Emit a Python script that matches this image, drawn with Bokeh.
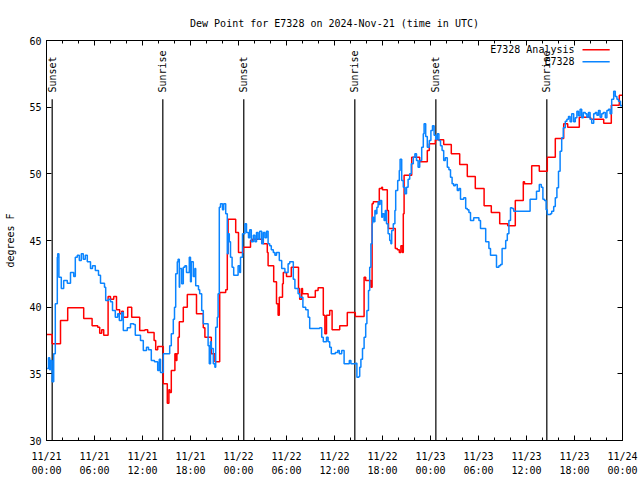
import math
from bokeh.plotting import figure
from bokeh.models import Range1d, LinearAxis, FixedTicker, Label
from bokeh.embed import file_html
from bokeh.resources import INLINE

title_text = "Dew Point for E7328 on 2024-Nov-21 (time in UTC)"
y_label = "degrees F"
series_names = ["E7328 Analysis", "E7328"]
series_colors = ["#ff0000", "#0a84ff"]

# hours since 2024-11-21 00:00 UTC
tick_hours = [0, 6, 12, 18, 24, 30, 36, 42, 48, 54, 60, 66, 72]
tick_labels = ["11/21\n00:00", "11/21\n06:00", "11/21\n12:00", "11/21\n18:00",
               "11/22\n00:00", "11/22\n06:00", "11/22\n12:00", "11/22\n18:00",
               "11/23\n00:00", "11/23\n06:00", "11/23\n12:00", "11/23\n18:00",
               "11/24\n00:00"]
minor_hours = [h for h in range(0, 73, 2) if h % 6 != 0]
y_ticks = [30, 35, 40, 45, 50, 55, 60]

sun_hours = [0.71, 14.54, 24.66, 38.54, 48.67, 62.54]
sun_names = ["Sunset", "Sunrise", "Sunset", "Sunrise", "Sunset", "Sunrise"]

red_hours = [0.0, 0.7, 1.75, 2.65, 4.65, 5.7, 6.4, 6.65, 6.9, 7.15,
             7.7, 8.0, 8.4, 8.75, 9.15, 9.4, 9.6, 10.15, 10.65, 11.65,
             12.3, 12.65, 13.45, 13.65, 13.9, 14.6, 15.1, 15.3, 15.4, 15.6,
             16.05, 16.2, 16.3, 16.45, 16.6, 17.1, 17.6, 18.75, 19.6, 19.8,
             20.6, 21.05, 21.65, 22.4, 22.6, 22.7, 23.65, 24.0, 24.6, 25.5,
             25.75, 27.1, 27.6, 27.7, 28.4, 28.75, 28.95, 29.1, 29.5, 29.6,
             30.0, 30.6, 31.5, 31.65, 31.9, 32.0, 32.7, 33.6, 33.95, 34.6,
             34.8, 35.0, 35.4, 35.7, 36.65, 37.6, 38.6, 39.7, 39.9, 40.55,
             40.7, 40.85, 41.6, 41.9, 42.0, 42.6, 42.75, 43.6, 43.85, 44.1,
             44.3, 44.5, 44.6, 44.7, 45.65, 46.65, 47.6, 47.85, 48.6, 49.65,
             50.6, 51.65, 52.6, 53.6, 54.7, 55.6, 56.65, 57.65, 58.6, 59.6,
             59.75, 60.65, 61.6, 62.6, 63.6, 64.65, 65.15, 66.6, 68.0, 69.65,
             70.6, 71.6, 72.0]
red_vals = [37.95, 37.25, 39.0, 39.95, 39.15, 38.6, 38.5, 38.05, 38.3, 37.9,
            40.8, 40.6, 40.8, 39.8, 39.5, 39.7, 39.25, 40.0, 39.25, 38.25,
            38.3, 38.1, 37.5, 36.8, 37.05, 34.25, 32.8, 33.8, 33.6, 35.25,
            36.5, 36.0, 36.5, 37.75, 38.9, 40.0, 40.95, 39.5, 38.45, 37.75,
            36.5, 35.9, 41.1, 41.3, 44.0, 46.6, 45.6, 44.1, 44.5, 45.0,
            45.1, 44.75, 44.1, 43.1, 41.9, 40.25, 39.4, 40.75, 41.75, 42.6,
            42.3, 43.0, 41.4, 40.6, 41.4, 41.0, 40.75, 41.25, 41.45, 39.4,
            38.0, 39.4, 39.75, 38.3, 38.6, 39.6, 39.3, 42.25, 42.0, 41.5,
            47.75, 47.9, 48.9, 49.0, 48.8, 47.25, 45.9, 44.4, 44.3, 44.1,
            44.6, 44.1, 47.0, 49.9, 51.25, 50.9, 51.75, 52.25, 52.55, 52.2,
            51.5, 50.7, 49.8, 48.9, 47.6, 47.1, 46.25, 46.1, 48.0, 49.4,
            49.25, 50.6, 50.2, 51.25, 52.65, 53.75, 53.5, 54.25, 54.1, 53.8,
            55.15, 55.9, 55.9]

blue_hours = [0.08, 0.25, 0.4, 0.5, 0.7, 0.9, 1.1, 1.35, 1.4, 1.55,
              1.85, 2.15, 2.6, 3.0, 3.4, 3.6, 3.85, 4.1, 4.35, 4.6,
              4.85, 5.1, 5.5, 5.75, 6.1, 6.5, 6.75, 7.25, 7.4, 7.75,
              8.0, 8.25, 8.6, 8.9, 9.1, 9.4, 9.6, 10.1, 10.5, 10.9,
              11.1, 11.5, 11.75, 12.1, 12.5, 12.75, 13.1, 13.5, 13.9, 14.1,
              14.25, 14.6, 15.25, 15.4, 15.6, 15.85, 16.0, 16.15, 16.35, 16.45,
              16.6, 16.65, 16.9, 17.1, 17.3, 17.5, 17.85, 18.0, 18.1, 18.35,
              18.55, 18.65, 19.0, 19.15, 19.4, 19.6, 20.0, 20.2, 20.35, 20.5,
              20.6, 20.85, 21.05, 21.15, 21.35, 21.45, 21.6, 21.75, 22.0, 22.15,
              22.4, 22.6, 22.7, 22.85, 23.0, 23.2, 23.4, 23.75, 23.95, 24.15,
              24.25, 24.5, 24.8, 25.0, 25.25, 25.4, 25.6, 25.85, 26.05, 26.25,
              26.45, 26.65, 26.9, 27.1, 27.3, 27.5, 27.7, 27.9, 28.1, 28.35,
              28.55, 28.75, 29.1, 29.4, 29.8, 30.2, 30.4, 30.85, 31.05, 31.45,
              31.65, 32.05, 32.4, 32.7, 32.9, 33.6, 34.15, 34.4, 34.6, 35.0,
              35.2, 35.4, 35.6, 36.1, 36.4, 36.6, 36.9, 37.2, 37.85, 38.05,
              38.65, 38.8, 39.05, 39.15, 39.3, 39.5, 39.7, 39.9, 40.05, 40.25,
              40.4, 40.55, 40.7, 40.75, 40.9, 41.05, 41.2, 41.3, 41.45, 41.6,
              41.7, 41.9, 42.0, 42.2, 42.35, 42.5, 42.7, 42.9, 43.05, 43.15,
              43.35, 43.55, 43.65, 43.9, 44.1, 44.2, 44.4, 44.6, 44.8, 45.0,
              45.2, 45.4, 45.6, 45.85, 46.05, 46.25, 46.45, 46.65, 46.9, 47.1,
              47.2, 47.4, 47.6, 47.85, 48.05, 48.25, 48.45, 48.65, 48.85, 49.05,
              49.25, 49.45, 49.65, 49.85, 50.1, 50.3, 50.5, 50.7, 50.9, 51.1,
              51.35, 51.55, 51.75, 52.15, 52.4, 52.6, 52.8, 53.0, 53.4, 53.85,
              54.05, 54.25, 54.65, 54.9, 55.1, 55.3, 55.5, 56.1, 56.25, 56.55,
              56.75, 56.95, 57.15, 57.4, 57.6, 57.8, 58.0, 58.2, 58.4, 60.45,
              61.25, 61.6, 61.85, 62.05, 62.25, 62.45, 62.6, 63.0, 63.15, 63.4,
              63.6, 63.8, 64.0, 64.2, 64.4, 64.6, 64.85, 65.05, 65.25, 65.45,
              65.65, 65.9, 66.1, 66.3, 66.5, 66.7, 66.9, 67.1, 67.35, 67.55,
              67.75, 67.95, 68.15, 68.4, 68.6, 68.8, 69.0, 69.2, 69.4, 69.6,
              69.85, 70.05, 70.25, 70.45, 70.65, 70.9, 71.1, 71.3, 71.5, 71.75,
              72.0]
blue_vals = [35.4, 36.2, 35.3, 36.0, 34.4, 36.5, 40.25, 43.75, 44.0, 42.25,
             41.4, 42.0, 41.8, 42.6, 42.3, 43.75, 43.9, 43.5, 44.0, 43.6,
             43.9, 43.4, 42.9, 43.1, 42.75, 42.4, 41.8, 41.5, 40.5, 40.6,
             40.4, 39.75, 39.25, 39.5, 39.0, 39.6, 38.25, 38.45, 38.75, 38.7,
             37.9, 37.9, 37.5, 36.75, 37.0, 36.8, 36.0, 35.9, 35.25, 36.1,
             35.1, 36.5, 36.5, 37.1, 38.0, 39.1, 40.0, 42.5, 43.4, 43.6,
             41.5, 42.9, 41.75, 43.0, 43.1, 42.6, 43.75, 41.9, 43.4, 42.3,
             42.9, 41.6, 41.3, 41.0, 39.75, 38.75, 38.75, 37.1, 35.75, 37.4,
             36.9, 35.75, 35.5, 38.5, 39.25, 41.0, 47.5, 47.75, 47.3, 47.75,
             47.0, 44.0, 45.5, 44.9, 43.75, 43.0, 42.4, 42.4, 43.1, 42.6,
             43.75, 45.5, 46.25, 45.6, 45.2, 45.8, 44.9, 45.4, 44.9, 45.6,
             45.1, 45.7, 44.75, 45.6, 45.2, 45.7, 44.75, 44.6, 44.3, 44.1,
             43.9, 44.1, 43.5, 42.9, 42.6, 43.25, 43.4, 42.1, 41.4, 41.0,
             40.75, 40.0, 39.8, 39.25, 38.4, 38.4, 38.45, 37.75, 37.4, 37.75,
             37.4, 37.0, 36.5, 36.6, 36.75, 36.5, 36.75, 35.75, 36.0, 35.75,
             35.8, 34.75, 34.8, 35.5, 36.1, 36.9, 37.75, 38.75, 39.75, 41.25,
             43.0, 44.75, 46.25, 46.75, 46.4, 47.25, 47.0, 47.5, 47.9, 47.7,
             48.0, 46.75, 47.0, 46.5, 47.25, 46.25, 45.5, 45.0, 44.75, 45.75,
             46.25, 47.25, 48.75, 49.5, 50.25, 51.1, 49.5, 49.0, 48.5, 49.0,
             49.6, 50.0, 50.75, 51.25, 51.5, 51.0, 50.5, 51.0, 52.0, 53.0,
             53.75, 52.8, 52.0, 52.5, 53.25, 53.6, 52.9, 52.6, 53.0, 52.5,
             52.1, 51.75, 51.0, 51.2, 50.5, 50.3, 49.75, 49.25, 49.1, 49.2,
             48.75, 48.9, 48.1, 48.2, 47.4, 47.3, 47.1, 46.5, 46.7, 46.7,
             46.5, 45.9, 45.9, 44.9, 44.9, 44.4, 43.9, 43.9, 43.0, 43.1,
             43.2, 44.4, 44.4, 45.0, 45.5, 46.5, 47.45, 47.4, 47.2, 48.1,
             48.7, 49.2, 49.0, 48.1, 48.0, 47.3, 46.95, 47.0, 47.2, 47.55,
             48.2, 48.95, 50.2, 51.7, 52.7, 53.45, 53.95, 54.1, 54.3, 53.9,
             54.5, 53.9, 54.2, 54.7, 54.35, 54.85, 54.2, 54.6, 54.5, 54.25,
             54.6, 54.1, 53.8, 54.5, 54.6, 54.4, 54.75, 54.25, 54.5, 54.6,
             54.2, 54.75, 54.85, 54.5, 55.6, 56.2, 55.8, 55.6, 55.45, 55.1,
             55.2]

assert len(red_hours) == len(red_vals)
assert len(blue_hours) == len(blue_vals)

X0, X1, Y0, Y1 = 0, 72, 30, 60
MONO = "DejaVu Sans Mono"
FS = "10px"

p = figure(width=640, height=478, x_range=Range1d(X0, X1), y_range=Range1d(Y0, Y1),
           x_axis_type=None, y_axis_type=None, toolbar_location=None,
           output_backend="svg", min_border_left=46, min_border_right=18,
           min_border_top=40, min_border_bottom=38)
p.xgrid.visible = False
p.ygrid.visible = False
p.outline_line_color = "black"
p.outline_line_width = 1
p.background_fill_color = "white"
p.border_fill_color = "white"

p.title.text = title_text
p.title.align = "center"
p.title.text_font = MONO
p.title.text_font_size = FS
p.title.text_font_style = "normal"
p.title.text_color = "black"
p.title.standoff = 24

xt = FixedTicker(ticks=tick_hours, minor_ticks=minor_hours)
yt = FixedTicker(ticks=y_ticks, minor_ticks=[])

def style(ax):
    ax.axis_line_color = "black"
    ax.major_tick_line_color = "black"
    ax.minor_tick_line_color = "black"
    ax.major_tick_in = 5
    ax.major_tick_out = 0
    ax.minor_tick_in = 3
    ax.minor_tick_out = 0
    ax.major_label_text_font = MONO
    ax.major_label_text_font_size = FS
    ax.major_label_text_color = "black"

bottom = LinearAxis(ticker=xt, major_label_overrides={h: t for h, t in zip(tick_hours, tick_labels)})
style(bottom)
bottom.major_label_standoff = 10
bottom.major_label_text_line_height = 1.3
p.add_layout(bottom, "below")

top = LinearAxis(ticker=xt, major_label_overrides={h: "" for h in tick_hours})
style(top)
top.major_label_standoff = 0
p.add_layout(top, "above")

left = LinearAxis(ticker=yt, axis_label=y_label)
style(left)
left.major_label_standoff = 5
left.axis_label_text_font = MONO
left.axis_label_text_font_size = FS
left.axis_label_text_font_style = "normal"
left.axis_label_text_color = "black"
left.axis_label_standoff = 10
p.add_layout(left, "left")

right = LinearAxis(ticker=yt, major_label_overrides={v: "" for v in y_ticks})
style(right)
right.major_label_standoff = 0
p.add_layout(right, "right")

# sunrise / sunset markers
line_top = 55.6
p.segment(x0=sun_hours, y0=[Y0] * len(sun_hours), x1=sun_hours, y1=[line_top] * len(sun_hours),
          line_color="black", line_width=1.2)
for h, name in zip(sun_hours, sun_names):
    p.add_layout(Label(x=h, y=56.1, text=name, angle=math.pi / 2, text_align="left",
                       text_baseline="middle", text_font=MONO, text_font_size=FS,
                       text_color="black"))

p.step(red_hours, red_vals, mode="after", line_color=series_colors[0], line_width=1.5)
p.step(blue_hours, blue_vals, mode="after", line_color=series_colors[1], line_width=1.5)

# legend (text left of sample line, as in the reference)
leg_y = [59.3, 58.4]
for name, col, ly in zip(series_names, series_colors, leg_y):
    p.add_layout(Label(x=66.0, y=ly, text=name, text_align="right", text_baseline="middle",
                       text_font=MONO, text_font_size=FS, text_color="black"))
    p.segment(x0=[67.0], y0=[ly], x1=[70.4], y1=[ly], line_color=col, line_width=1.5)

open("out.html", "w").write(file_html(p, INLINE))
